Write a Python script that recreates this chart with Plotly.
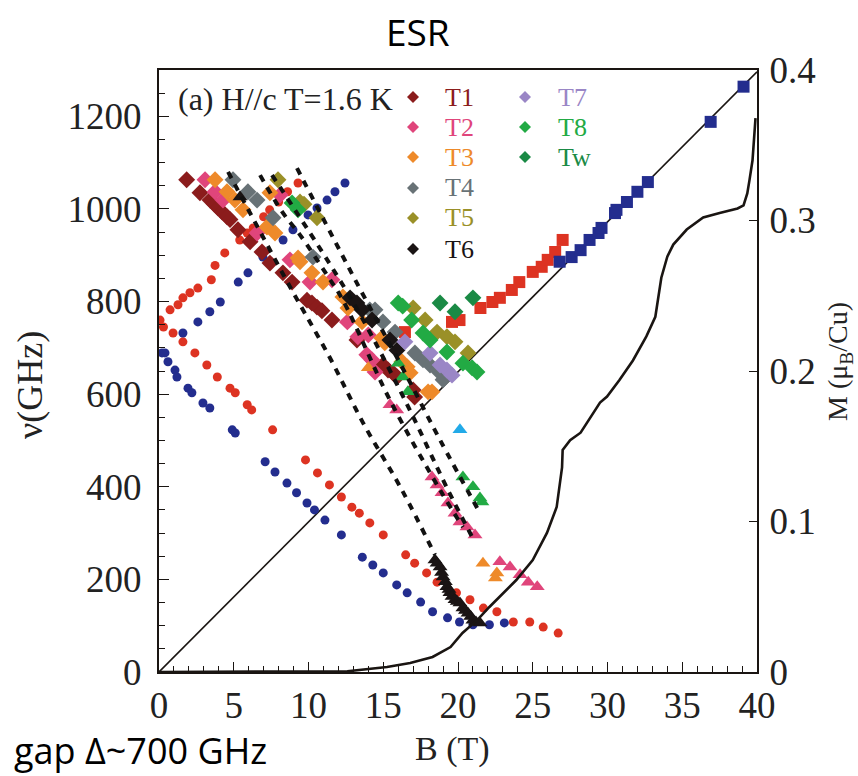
import plotly.graph_objects as go

# ---------------- data: field B (T) and frequency nu (GHz) ----------------
red_up_B = [0.07, 0.74, 1.27, 1.6, 2.07, 2.6, 3.5, 3.75, 4.4, 5.4, 5.9, 6.3, 7.0, 7.4, 8.0, 8.6, 9.3]
red_up_nu = [760, 782, 793, 808, 819, 829, 847, 878, 905, 933, 948, 959, 983, 998, 1015, 1037, 1056]

red_dn_B = [0.3, 0.94, 1.6, 2.4, 3.2, 3.9, 4.75, 5.1, 5.9, 6.2, 7.6, 9.8, 10.6, 11.4, 12.2, 12.9,
            13.4, 14.1, 15.0, 16.5, 17.1, 17.9, 18.6, 19.9, 20.8, 21.7, 22.6, 23.7, 24.8, 25.7, 26.7]
red_dn_nu = [745, 732, 713, 689, 663, 637, 613, 603, 577, 566, 523, 458, 430, 404, 378, 356,
             343, 322, 296, 253, 235, 214, 194, 171, 156, 138, 130, 108, 108, 97, 84]

blue_up_B = [0.2, 1.6, 2.6, 3.4, 4.1, 5.3, 5.95, 6.95, 8.3, 8.96, 9.97, 10.57, 11.24, 11.77, 12.44]
blue_up_nu = [689, 732, 756, 778, 799, 842, 862, 896, 933, 955, 987, 1002, 1019, 1037, 1056]

blue_dn_B = [0.4, 0.6, 1.07, 1.2, 1.94, 2.2, 2.94, 3.4, 4.9, 5.1, 7.1, 7.76, 8.56, 9.2, 9.9, 10.4,
             11.1, 12.2, 13.6, 14.3, 15.0, 15.9, 16.6, 17.5, 18.3, 19.3, 20.1, 21.0, 22.1, 23.1]
blue_dn_nu = [689, 670, 652, 637, 613, 603, 581, 570, 523, 516, 454, 432, 408, 387, 365, 350,
              328, 296, 248, 231, 214, 188, 171, 151, 130, 117, 108, 102, 102, 106]

red_sq_B = [16.45, 19.6, 20.1, 21.5, 22.3, 22.8, 23.6, 24.1, 25.0, 25.6, 26.0, 26.5, 27.0]
red_sq_nu = [734, 756, 760, 786, 799, 808, 825, 842, 864, 875, 890, 907, 933]

blue_sq_B = [26.8, 27.6, 28.2, 28.8, 29.4, 29.6, 30.5, 30.6, 31.3, 32.0, 32.7, 36.9, 39.1]
blue_sq_nu = [886, 896, 911, 933, 948, 959, 991, 998, 1015, 1037, 1058, 1188, 1264]

# T-mode branches (diamonds)
t1_B = [1.85, 2.74, 3.41, 3.68, 3.95, 4.21, 4.55, 4.75, 5.28, 6.09, 6.89, 7.42, 8.29, 8.9, 9.9,
        10.23, 10.57, 10.9, 11.57, 13.24, 14.98, 15.32, 15.65, 15.92, 17.0, 17.1]
t1_nu = [1063, 1035, 1019, 1011, 1002, 994, 983, 977, 955, 929, 907, 883, 862, 842, 803,
         797, 788, 780, 760, 717, 663, 652, 646, 637, 609, 594]
t2_B = [3.08, 3.75, 4.28, 6.56, 8.1, 8.76, 10.1, 11.57, 12.6, 13.3, 14.0, 13.9, 14.25, 14.45]
t2_nu = [1063, 1037, 1019, 948, 1030, 890, 842, 847, 756, 724, 728, 685, 674, 648]
t3_B = [3.75, 4.55, 5.08, 5.62, 7.22, 7.76, 7.42, 9.3, 9.43, 10.23, 10.97, 12.3, 12.64, 13.58,
        14.9, 15.1, 16.25, 16.6, 16.8, 18.0, 18.26]
t3_nu = [1063, 1037, 1019, 998, 961, 948, 1035, 894, 886, 862, 842, 810, 786, 756,
         721, 711, 670, 659, 646, 605, 605]
t4_B = [4.95, 5.95, 6.56, 7.63, 10.3, 14.1, 14.45, 14.98, 15.79, 17.12, 17.66, 18.13, 18.6, 19.0]
t4_nu = [1063, 1037, 1019, 981, 896, 782, 782, 756, 734, 689, 674, 663, 652, 631]
t5_B = [7.96, 9.43, 9.7, 10.57, 17.0, 17.8, 18.6, 19.26, 19.8, 20.67]
t5_nu = [1063, 1015, 1010, 981, 786, 760, 734, 724, 713, 689]
t6_B = [12.78, 13.24, 13.58, 14.25, 15.45, 15.92]
t6_nu = [808, 797, 782, 760, 717, 695]
t7_B = [16.45, 18.13, 18.8, 19.26, 19.6]
t7_nu = [713, 689, 663, 652, 641]
t8_B = [8.9, 9.3, 16.0, 16.3, 16.9, 17.66, 18.13, 19.26, 20.33, 20.94, 21.27]
t8_nu = [1013, 998, 797, 790, 760, 732, 717, 691, 667, 657, 648]
tw_B = [18.8, 19.8, 21.0]
tw_nu = [797, 778, 808]

# triangles
t6_tri_B = [5.42, 18.46, 18.6, 18.8, 18.9, 19.0, 19.15, 19.26, 19.4, 19.46, 19.6, 19.8, 19.95,
            20.13, 20.33, 20.5, 20.67, 20.85, 21.0, 21.2, 21.47]
t6_tri_nu = [1026, 242, 235, 227, 215, 205, 195, 184, 178, 171, 163, 156, 152,
             149, 138, 133, 127, 120, 112, 108, 106]
t2_tri_B = [15.45, 15.9, 18.26, 18.6, 18.93, 19.33, 19.8, 20.13, 20.6, 21.14,
            22.8, 23.48, 24.15, 24.7, 25.3]
t2_tri_nu = [577, 566, 421, 404, 387, 365, 343, 324, 313, 296,
             238, 227, 210, 194, 184]
t8_tri_B = [16.0, 16.3, 16.65, 20.33, 21.0, 21.47, 21.6]
t8_tri_nu = [667, 637, 605, 421, 400, 376, 367]
t3_tri_B = [14.0, 21.67, 22.6, 22.5]
t3_tri_nu = [657, 235, 214, 203]
cyan_tri_B = [20.13]
cyan_tri_nu = [523]

# dotted guide curves for the T modes
guide_a_B = [4.62, 8.76, 11.44, 13.65, 16.25, 18.46]
guide_a_nu = [1080, 832, 678, 538, 393, 253]
guide_b_B = [6.76, 8.23, 9.43, 11.24, 12.3, 15.45, 18.8, 20.33]
guide_b_nu = [1073, 994, 944, 857, 803, 587, 393, 313]
guide_c_B = [7.56, 12.9, 16.45, 19.33, 20.94]
guide_c_nu = [1073, 803, 587, 393, 292]
guide_d_B = [9.23, 13.3, 16.12, 18.8, 21.47]
guide_d_nu = [1088, 836, 667, 501, 343]

# paramagnetic resonance line
para_B = [0, 40]
para_nu = [0, 1296]

# magnetization curve (right axis)
mag_B = [0, 5, 10, 12.6, 15.25, 16.8, 18.3, 19.5, 20.3, 21.3, 22.1, 23.0, 23.9, 25.0, 25.95,
         26.6, 26.96, 27.0, 27.5, 28.2, 28.6, 29.5, 29.97, 30.8, 31.7, 32.6, 33.2, 33.4, 33.6,
         34.0, 34.4, 35.3, 36.4, 37.5, 38.7, 39.1, 39.35, 39.5, 39.7, 39.9]
mag_M = [0, 0, 0, 0.0005, 0.0033, 0.006, 0.010, 0.0166, 0.0259, 0.0346, 0.0432, 0.0525, 0.0611,
         0.0744, 0.0924, 0.1096, 0.136, 0.1475, 0.154, 0.159, 0.165, 0.179, 0.183, 0.194, 0.207,
         0.223, 0.236, 0.249, 0.262, 0.276, 0.284, 0.294, 0.302, 0.305, 0.308, 0.310, 0.318,
         0.327, 0.340, 0.368]

# legend entries: (label, colour)
legend_col1 = [("T1", "#8B1C1C"), ("T2", "#E0457B"), ("T3", "#EE8A2A"),
               ("T4", "#687276"), ("T5", "#9A9028"), ("T6", "#1A1414")]
legend_col2 = [("T7", "#9A86C6"), ("T8", "#22AA44"), ("Tw", "#1A8A45")]

RED = "#DD3322"
NAVY = "#232D8E"
CYAN = "#22AAE8"
COL = dict(legend_col1 + legend_col2)

# ---------------- figure ----------------
W, H = 858, 776
PL, PR, PT, PB = 159, 757, 70, 672  # plot frame in pixels
SERIF = "Liberation Serif"


def fx(x):
    return (x - PL) / (PR - PL)


def fy(y):
    return (PB - y) / (PB - PT)


fig = go.Figure()

fig.add_trace(go.Scatter(x=mag_B, y=mag_M, yaxis="y2", mode="lines",
                         line=dict(color="#1a1512", width=2.6)))
fig.add_trace(go.Scatter(x=para_B, y=para_nu, mode="lines",
                         line=dict(color="#1a1512", width=1.6)))


def pts(xs, ys, color, symbol, size):
    fig.add_trace(go.Scatter(x=xs, y=ys, mode="markers",
                             marker=dict(color=color, symbol=symbol, size=size, line=dict(width=0))))


pts(red_up_B, red_up_nu, RED, "circle", 9)
pts(red_dn_B, red_dn_nu, RED, "circle", 9)
pts(blue_up_B, blue_up_nu, NAVY, "circle", 9)
pts(blue_dn_B, blue_dn_nu, NAVY, "circle", 9)
pts(red_sq_B, red_sq_nu, RED, "square", 12)
pts(blue_sq_B, blue_sq_nu, NAVY, "square", 12)

for xs, ys, key in [(t1_B, t1_nu, "T1"), (t2_B, t2_nu, "T2"), (t3_B, t3_nu, "T3"),
                    (t4_B, t4_nu, "T4"), (t5_B, t5_nu, "T5"), (t6_B, t6_nu, "T6"),
                    (t7_B, t7_nu, "T7"), (t8_B, t8_nu, "T8"), (tw_B, tw_nu, "Tw")]:
    pts(xs, ys, COL[key], "diamond", 13)

pts(t2_tri_B, t2_tri_nu, COL["T2"], "triangle-up", 13)
pts(t8_tri_B, t8_tri_nu, COL["T8"], "triangle-up", 13)
pts(t3_tri_B, t3_tri_nu, COL["T3"], "triangle-up", 13)
pts(cyan_tri_B, cyan_tri_nu, CYAN, "triangle-up", 13)
pts(t6_tri_B, t6_tri_nu, COL["T6"], "triangle-up", 13)

for gx, gy in [(guide_a_B, guide_a_nu), (guide_b_B, guide_b_nu),
               (guide_c_B, guide_c_nu), (guide_d_B, guide_d_nu)]:
    fig.add_trace(go.Scatter(x=gx, y=gy, mode="lines", line_shape="spline",
                             line=dict(color="#111", width=4, dash="7px,7px")))

# legend: diamond glyphs as paper shapes, coloured labels as annotations
rows1 = [97, 127, 157, 188, 218, 249]
rows2 = [97, 127, 157]
shapes = []
annotations = []


def legend_item(mx, tx, yy, lab, c):
    hw, hh = 6 / (PR - PL), 6 / (PB - PT)
    cx, cy = fx(mx), fy(yy)
    shapes.append(dict(type="path", xref="paper", yref="paper", line=dict(width=0), fillcolor=c,
                       path=f"M {cx},{cy + hh} L {cx + hw},{cy} L {cx},{cy - hh} L {cx - hw},{cy} Z"))
    annotations.append(dict(xref="paper", yref="paper", x=fx(tx), y=cy, text=lab,
                            showarrow=False, xanchor="left", yanchor="middle", borderpad=0,
                            font=dict(family=SERIF, size=26, color=c)))


for (lab, c), yy in zip(legend_col1, rows1):
    legend_item(413, 444, yy, lab, c)
for (lab, c), yy in zip(legend_col2, rows2):
    legend_item(525, 557, yy, lab, c)

annotations += [
    dict(xref="paper", yref="paper", x=fx(176), y=fy(99), text="(a) H//c T=1.6 K",
         showarrow=False, xanchor="left", yanchor="middle",
         font=dict(family=SERIF, size=32, color="#222")),
    dict(xref="paper", yref="paper", x=fx(30), y=fy(385), text="ν(GHz)", textangle=-90,
         showarrow=False, xanchor="center", yanchor="middle",
         font=dict(family=SERIF, size=36, color="#222")),
    dict(xref="paper", yref="paper", x=fx(452), y=fy(749), text="B (T)",
         showarrow=False, xanchor="center", yanchor="middle",
         font=dict(family=SERIF, size=34, color="#222")),
    dict(xref="paper", yref="paper", x=fx(839), y=fy(362), text="M (μ<sub>B</sub>/Cu)",
         textangle=-90, showarrow=False, xanchor="center", yanchor="middle",
         font=dict(family=SERIF, size=28, color="#222")),
    dict(xref="paper", yref="paper", x=fx(418), y=fy(31), text="ESR",
         showarrow=False, xanchor="center", yanchor="middle",
         font=dict(family="Open Sans", size=37, color="black")),
    dict(xref="paper", yref="paper", x=fx(268), y=fy(776), text="gap Δ~700 GHz",
         showarrow=False, xanchor="right", yanchor="bottom", borderpad=0,
         font=dict(family="Open Sans", size=36, color="black")),
]

axis_common = dict(showgrid=False, zeroline=False, showline=True, linecolor="#1a1512",
                   linewidth=2, ticks="inside", tickcolor="#1a1512",
                   tickfont=dict(family=SERIF, size=37, color="#222"))

fig.update_layout(
    width=W, height=H,
    margin=dict(l=PL, r=W - PR, t=PT, b=H - PB, pad=0),
    paper_bgcolor="white", plot_bgcolor="white",
    showlegend=False,
    xaxis=dict(range=[0, 40], dtick=5, tick0=0, ticklen=10, mirror=True,
               minor=dict(dtick=1, ticks="inside", ticklen=6, tickcolor="#1a1512"),
               **axis_common),
    yaxis=dict(range=[0, 1300], dtick=200, tick0=0, ticklen=10, ticklabelstandoff=8,
               minor=dict(dtick=50, ticks="inside", ticklen=6, tickcolor="#1a1512"),
               **axis_common),
    yaxis2=dict(range=[0, 0.4], dtick=0.1, tick0=0, overlaying="y", side="right",
                ticklen=8, ticklabelstandoff=3, tickformat=".1~f",
                **axis_common),
    shapes=shapes,
    annotations=annotations,
)

fig.write_html("out.html")
